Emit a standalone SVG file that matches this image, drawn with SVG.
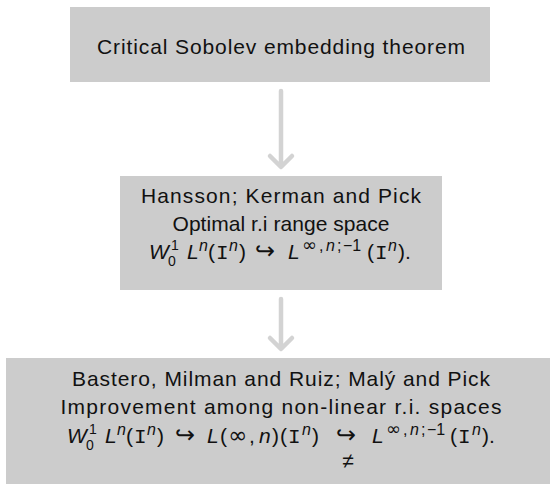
<svg xmlns="http://www.w3.org/2000/svg" width="550" height="486" viewBox="0 0 550 486">
<style>
.box{fill:#cccccc}
.t{font-family:"Liberation Sans",Arial,sans-serif;font-size:21px;fill:#111;text-anchor:middle}
.m{font-family:"Liberation Sans",Arial,sans-serif;font-size:21px;fill:#111}
.i{font-style:italic}
.s{font-size:16px}
.ss{font-size:14px}
.tt{font-family:"Liberation Mono",monospace}
.h{font-family:"DejaVu Sans",sans-serif;font-size:24px}
.inf{font-family:"DejaVu Sans",sans-serif;font-size:18px}
.infb{font-family:"DejaVu Sans",sans-serif;font-size:23px}
.c{fill:none;stroke:#d3d3d3;stroke-width:4.5;stroke-linecap:round;stroke-linejoin:round}
</style>
<g id="connectors">
<path class="c" d="M281 91 V166 M270 156 L281 167 L292 156"/>
<path class="c" d="M281 299 V348 M270 338 L281 349 L292 338"/>
</g>
<g id="node-critical">
<rect class="box" x="70" y="7" width="420" height="75"/>
<text class="t" x="281" y="54" textLength="368" lengthAdjust="spacing">Critical Sobolev embedding theorem</text>
</g>
<g id="node-hansson">
<rect class="box" x="120" y="176" width="322" height="114"/>
<text class="t" x="281" y="203" textLength="280" lengthAdjust="spacing">Hansson; Kerman and Pick</text>
<text class="t" x="281" y="231" textLength="217" lengthAdjust="spacing">Optimal r.i range space</text>
<text class="m"><tspan class="i" x="149" y="259">W</tspan><tspan class="ss" x="171" y="250">1</tspan><tspan class="ss" x="168" y="266">0</tspan><tspan class="i" x="187" y="259">L</tspan><tspan class="s i" x="199" y="251">n</tspan><tspan x="208" y="259">(</tspan><tspan class="tt" x="216" y="259">I</tspan><tspan class="s i" x="229" y="251">n</tspan><tspan x="239" y="259">)</tspan><tspan class="h" x="255" y="259">↪</tspan><tspan class="i" x="288" y="259">L</tspan><tspan class="inf" x="302" y="251">∞</tspan><tspan class="s" x="319" y="251">,</tspan><tspan class="s i" x="326" y="251">n</tspan><tspan class="s" x="337" y="251">;</tspan><tspan class="s" x="343" y="251">−1</tspan><tspan x="367" y="259">(</tspan><tspan class="tt" x="375" y="259">I</tspan><tspan class="s i" x="388" y="251">n</tspan><tspan x="398" y="259">).</tspan></text>
</g>
<g id="node-bastero">
<rect class="box" x="6" y="358" width="560" height="126"/>
<text class="t" x="281" y="386" textLength="418" lengthAdjust="spacing">Bastero, Milman and Ruiz; Malý and Pick</text>
<text class="t" x="281" y="414" textLength="441" lengthAdjust="spacing">Improvement among non-linear r.i.  spaces</text>
<text class="m"><tspan class="i" x="67" y="443">W</tspan><tspan class="ss" x="89" y="434">1</tspan><tspan class="ss" x="86" y="450">0</tspan><tspan class="i" x="105" y="443">L</tspan><tspan class="s i" x="117" y="435">n</tspan><tspan x="126" y="443">(</tspan><tspan class="tt" x="134" y="443">I</tspan><tspan class="s i" x="147" y="435">n</tspan><tspan x="157" y="443">)</tspan><tspan class="h" x="175" y="443">↪</tspan><tspan class="i" x="207" y="443">L</tspan><tspan x="220" y="443">(</tspan><tspan class="infb" x="228" y="443">∞</tspan><tspan x="249" y="443">,</tspan><tspan class="i" x="259" y="443">n</tspan><tspan x="272" y="443">)</tspan><tspan x="280" y="443">(</tspan><tspan class="tt" x="288" y="443">I</tspan><tspan class="s i" x="302" y="435">n</tspan><tspan x="312" y="443">)</tspan><tspan class="h" x="336" y="443">↪</tspan><tspan class="i" x="372" y="443">L</tspan><tspan class="inf" x="386" y="435">∞</tspan><tspan class="s" x="403" y="435">,</tspan><tspan class="s i" x="410" y="435">n</tspan><tspan class="s" x="421" y="435">;</tspan><tspan class="s" x="427" y="435">−1</tspan><tspan x="450" y="443">(</tspan><tspan class="tt" x="458" y="443">I</tspan><tspan class="s i" x="472" y="435">n</tspan><tspan x="482" y="443">).</tspan></text>
<text class="m" x="348" y="468" text-anchor="middle" font-size="17">≠</text>
</g>
</svg>
